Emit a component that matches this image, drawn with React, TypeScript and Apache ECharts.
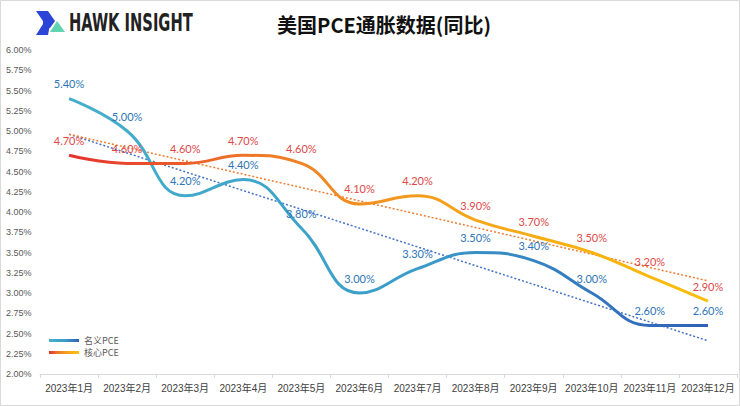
import React, { useEffect, useRef } from "react";
import * as echarts from "echarts";

const categories = ["2023年1月","2023年2月","2023年3月","2023年4月","2023年5月","2023年6月","2023年7月","2023年8月","2023年9月","2023年10月","2023年11月","2023年12月"];
const nominalPCE = [5.4, 5.0, 4.2, 4.4, 3.8, 3.0, 3.3, 3.5, 3.4, 3.0, 2.6, 2.6];
const corePCE = [4.7, 4.6, 4.6, 4.7, 4.6, 4.1, 4.2, 3.9, 3.7, 3.5, 3.2, 2.9];
const nominalTrend = [[0, 4.96], [11, 2.41]];
const coreTrend = [[0, 4.96], [11, 3.15]];
const seriesNames = ["名义PCE", "核心PCE"];
const titleText = "美国PCE通胀数据(同比)";
const brandText = "HAWK INSIGHT";

export default function App() {
  const ref = useRef<HTMLDivElement>(null);
  useEffect(() => {
    const chart = echarts.init(ref.current!, null, { renderer: "svg" });
    const mkBlue = () => new echarts.graphic.LinearGradient(0, 0, 1, 0, [
      { offset: 0, color: "#45b0cc" },
      { offset: 0.55, color: "#3a9cc8" },
      { offset: 1, color: "#2f5fb8" },
    ]);
    const mkCore = () => new echarts.graphic.LinearGradient(0, 0, 1, 0, [
      { offset: 0, color: "#e5322f" },
      { offset: 0.3, color: "#ee7a27" },
      { offset: 0.6, color: "#f5a21a" },
      { offset: 1, color: "#fbbf0c" },
    ]);
    const labelFont = { fontFamily: "Lato, 'Open Sans', sans-serif", fontSize: 11 };
    chart.setOption({
      animation: false,
      backgroundColor: "#ffffff",
      grid: { left: 40, right: 3, top: 50, bottom: 32, containLabel: false },
      legend: {
        data: [
          { name: seriesNames[0], icon: "rect", itemStyle: { color: mkBlue(), opacity: 1 } },
          { name: seriesNames[1], icon: "rect", itemStyle: { color: mkCore(), opacity: 1 } },
        ],
        orient: "vertical",
        left: 44,
        top: 331,
        itemWidth: 30,
        itemHeight: 3,
        itemGap: 3,
        textStyle: { color: "#595959", fontSize: 9, fontFamily: "'Noto Sans CJK SC', serif" },
      },
      xAxis: {
        type: "category",
        data: categories,
        boundaryGap: true,
        axisLine: { lineStyle: { color: "#d9d9d9", width: 1 } },
        axisTick: { show: true, alignWithLabel: false, length: 4, lineStyle: { color: "#d9d9d9" } },
        axisLabel: { color: "#404040", fontSize: 10, margin: 9, interval: 0, fontFamily: "'Liberation Sans', 'Noto Sans CJK SC', sans-serif" },
      },
      yAxis: {
        type: "value",
        min: 2,
        max: 6,
        interval: 0.25,
        axisLine: { show: false },
        axisTick: { show: false },
        splitLine: { show: false },
        axisLabel: {
          formatter: (v: number) => v.toFixed(2) + "%",
          color: "#595959",
          fontSize: 9,
          align: "left",
          margin: 34,
          fontFamily: "'Liberation Sans', sans-serif",
        },
      },
      series: [
        {
          name: seriesNames[0],
          type: "line",
          data: nominalPCE,
          smooth: 0.45,
          symbol: "circle",
          symbolSize: 1,
          itemStyle: { color: "transparent" },
          lineStyle: { color: mkBlue(), width: 3 },
          label: {
            show: true,
            position: "top",
            distance: 9,
            color: "#2e75b6",
            ...labelFont,
            formatter: (p: any) => p.value.toFixed(2) + "%",
          },
          z: 3,
        },
        {
          name: seriesNames[1],
          type: "line",
          data: corePCE,
          smooth: 0.45,
          symbol: "circle",
          symbolSize: 1,
          itemStyle: { color: "transparent" },
          lineStyle: { color: mkCore(), width: 3 },
          label: {
            show: true,
            position: "top",
            distance: 9,
            color: "#e04848",
            ...labelFont,
            formatter: (p: any) => p.value.toFixed(2) + "%",
          },
          z: 3,
        },
        {
          name: "名义PCE趋势",
          type: "line",
          data: nominalTrend,
          symbol: "none",
          lineStyle: { color: "#4472c4", width: 1.5, type: [2, 2] },
          z: 2,
          silent: true,
        },
        {
          name: "核心PCE趋势",
          type: "line",
          data: coreTrend,
          symbol: "none",
          lineStyle: { color: "#ed7d31", width: 1.5, type: [2, 2] },
          z: 2,
          silent: true,
        },
      ],
      graphic: [
        {
          type: "rect",
          shape: { x: 0.5, y: 0.5, width: 739, height: 405 },
          style: { fill: "none", stroke: "#d9d9d9", lineWidth: 1 },
          silent: true,
        },
        {
          type: "polygon",
          shape: { points: [[36, 11], [48, 11], [55, 21], [43, 21]] },
          style: { fill: "#2b45d6" },
        },
        {
          type: "polygon",
          shape: { points: [[43, 24], [50, 24], [48, 35], [36, 35]] },
          style: { fill: "#2b45d6" },
        },
        {
          type: "polygon",
          shape: { points: [[50, 32], [57, 21], [65, 32]] },
          style: { fill: "#5fd6b0" },
        },
        {
          type: "polygon",
          shape: { points: [[43, 21], [55, 21], [50, 28], [43, 28]] },
          style: { fill: "#2b45d6" },
        },
        {
          type: "text",
          x: 69,
          y: 23,
          scaleX: 0.68,
          style: {
            text: brandText,
            fontFamily: "'DejaVu Sans Condensed', 'DejaVu Sans', sans-serif",
            fontWeight: "bold",
            fontSize: 24,
            fill: "#222222",
            verticalAlign: "middle",
          },
        },
        {
          type: "text",
          x: 384,
          y: 24,
          style: {
            text: titleText,
            fontFamily: "'Noto Sans CJK SC', sans-serif",
            fontWeight: "bold",
            fontSize: 20,
            fill: "#111111",
            align: "center",
            verticalAlign: "middle",
          },
        },
      ],
    });
    return () => chart.dispose();
  }, []);
  return (
    <div
      ref={ref}
      style={{ position: "fixed", left: 0, top: 0, width: 740, height: 406 }}
    />
  );
}
